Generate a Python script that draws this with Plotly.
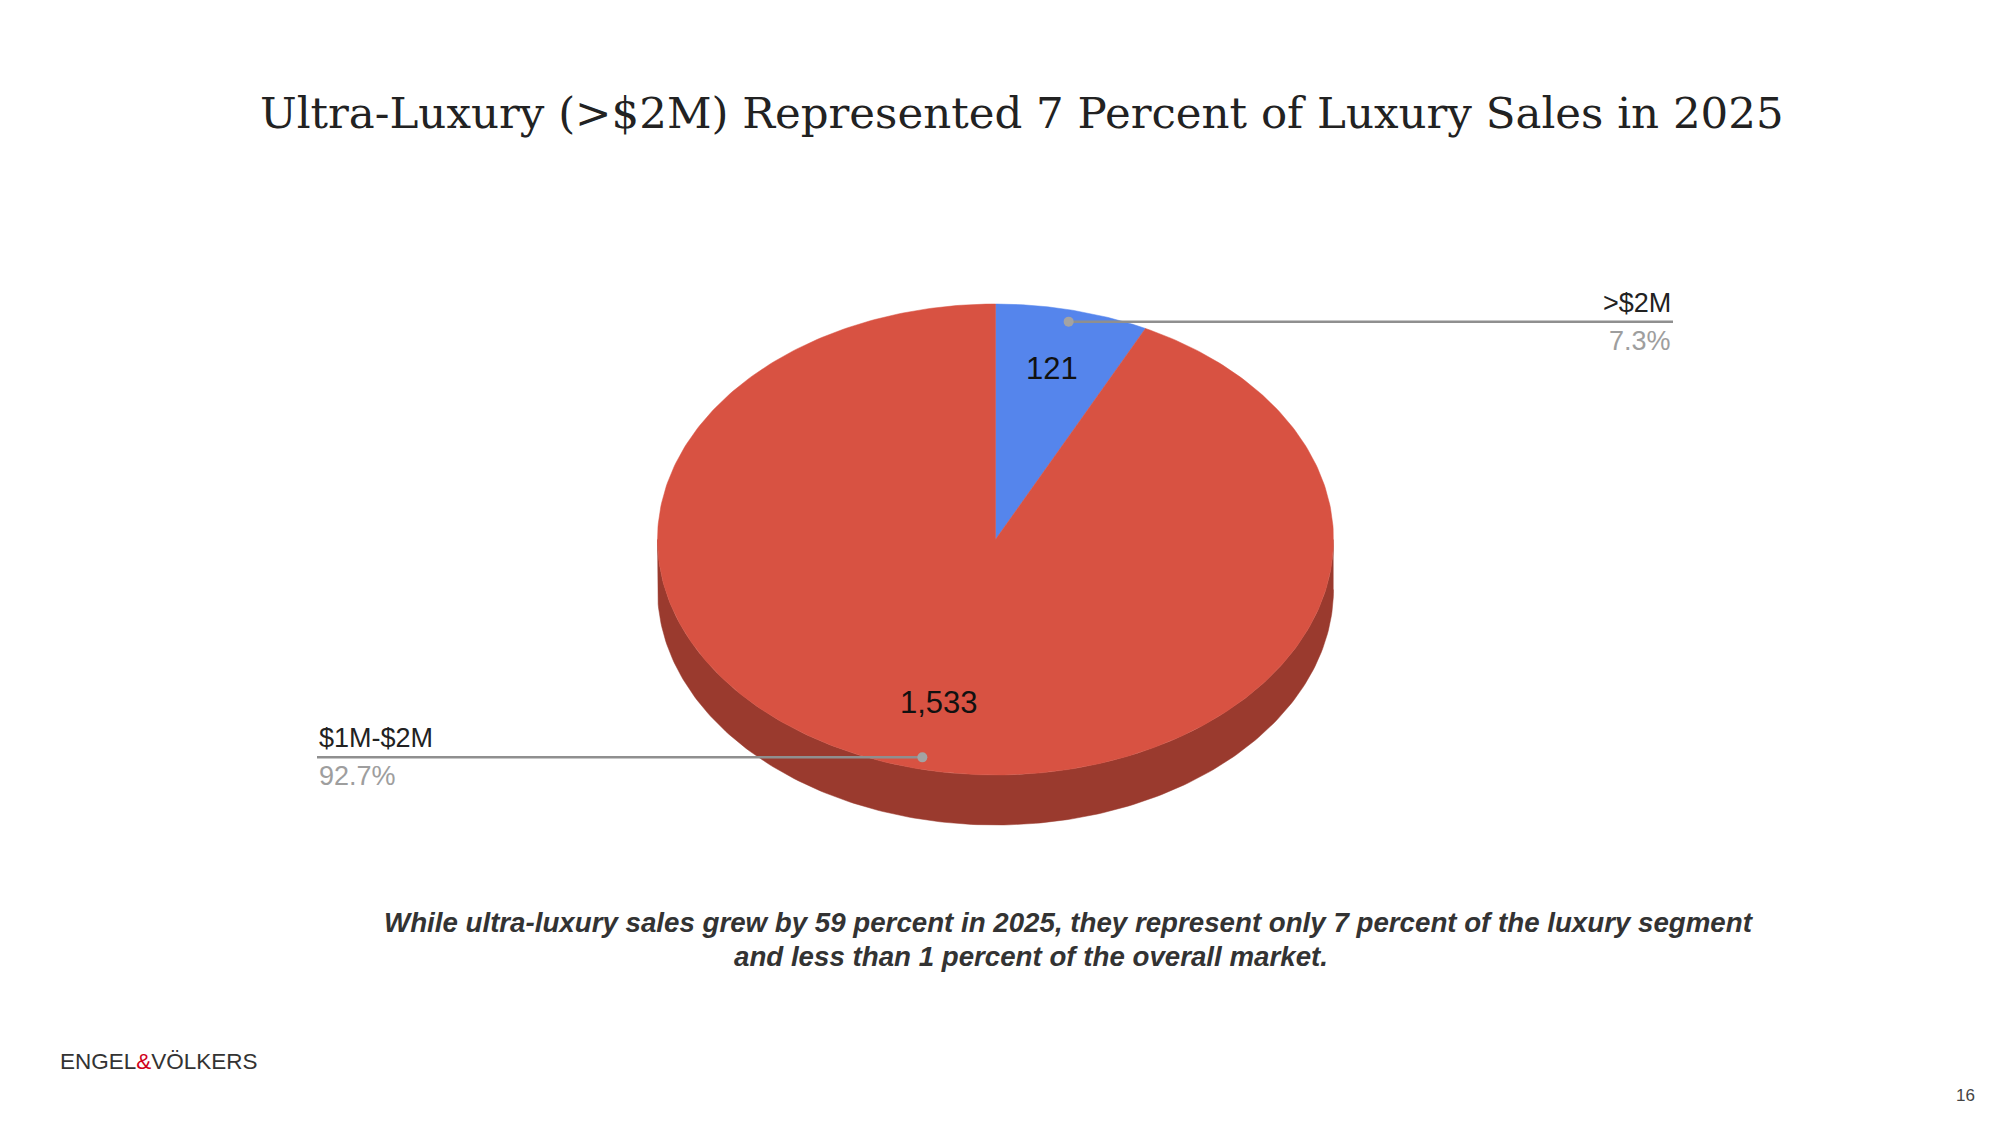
import numpy as np
import plotly.graph_objects as go

# ---- data ----
categories = [">$2M", "$1M-$2M"]
sales = [121, 1533]
value_labels = ["121", "1,533"]
pct_labels = ["7.3%", "92.7%"]
title_text = "Ultra-Luxury (>$2M) Represented 7 Percent of Luxury Sales in 2025"
caption_lines = [
    "While ultra-luxury sales grew by 59 percent in 2025, they represent only 7 percent of the luxury segment",
    "and less than 1 percent of the overall market.",
]

# ---- style / layout constants ----
W, H = 2000, 1125
CX, CY, RX, RY, DEPTH = 987.5, 531.5, 338, 235.5, 50
TOP_COLORS = ["#5585EC", "#D85242"]
SIDE_COLORS = ["#3A62B8", "#9A3A2E"]
LINE_COLOR = "#8f8f8f"
DOT_COLOR = "#a3a3a3"
LABEL_X = [1665, 309]  # leader line ends
LABEL_SIDE = ["right", "left"]
SANS = "Liberation Sans, Arial, sans-serif"
CAPTION_POS = [(1061, 914), (1023, 948)]


def pt(theta_deg, r=1.0, dy=0.0):
    t = np.radians(theta_deg)
    return CX + RX * r * np.sin(t), CY - RY * r * np.cos(t) + dy


total = sum(sales)
fracs = [v / total for v in sales]
starts = np.cumsum([0] + fracs[:-1]) * 360
ends = np.cumsum(fracs) * 360

fig = go.Figure()

# side (extrusion) of visible lower half: angles 90..270 clockwise from top
for i in range(len(sales)):
    a0, a1 = max(starts[i], 90), min(ends[i], 270)
    if a1 <= a0:
        continue
    th = np.linspace(a0, a1, 200)
    xs_t, ys_t = pt(th)
    xs_b, ys_b = pt(th[::-1], dy=DEPTH)
    fig.add_trace(go.Scatter(
        x=np.concatenate([xs_t, xs_b]), y=np.concatenate([ys_t, ys_b]),
        fill="toself", fillcolor=SIDE_COLORS[i], mode="lines",
        line=dict(width=0.5, color=SIDE_COLORS[i]), hoverinfo="skip", showlegend=False))

# top face wedges
for i in range(len(sales)):
    th = np.linspace(starts[i], ends[i], 400)
    xs, ys = pt(th)
    fig.add_trace(go.Scatter(
        x=np.concatenate([[CX], xs, [CX]]), y=np.concatenate([[CY], ys, [CY]]),
        fill="toself", fillcolor=TOP_COLORS[i], mode="lines",
        line=dict(width=0.5, color=TOP_COLORS[i]), hoverinfo="skip", showlegend=False,
        name=categories[i]))

annotations = []
mids = (starts + ends) / 2
for i in range(len(sales)):
    # value label inside slice
    vx, vy = pt(mids[i], r=0.728, dy=-4)
    annotations.append(dict(x=vx, y=vy, text=value_labels[i], showarrow=False,
                            font=dict(family=SANS, size=31, color="#111111"),
                            xanchor="center", yanchor="middle"))
    # leader line + dot
    dx, dy = pt(mids[i], r=0.95)
    fig.add_trace(go.Scatter(x=[dx, LABEL_X[i]], y=[dy, dy], mode="lines",
                             line=dict(color=LINE_COLOR, width=2.5),
                             hoverinfo="skip", showlegend=False))
    fig.add_trace(go.Scatter(x=[dx], y=[dy], mode="markers",
                             marker=dict(color=DOT_COLOR, size=10),
                             hoverinfo="skip", showlegend=False))
    xa = LABEL_SIDE[i]
    annotations.append(dict(x=LABEL_X[i], y=dy - 2, text=categories[i].replace("$", "&#36;"),
                            showarrow=False, xanchor=xa, yanchor="bottom",
                            font=dict(family=SANS, size=27, color="#222222")))
    annotations.append(dict(x=LABEL_X[i], y=dy + 2, text=pct_labels[i], showarrow=False,
                            xanchor=xa, yanchor="top",
                            font=dict(family=SANS, size=27, color="#9e9e9e")))

# title
annotations.append(dict(x=1014, y=105, text=title_text.replace("$", "&#36;"), showarrow=False,
                        xanchor="center", yanchor="middle",
                        font=dict(family="DejaVu Serif, Liberation Serif, serif", size=43.5,
                                  color="#222222")))
# caption
for (cx_, cy_), line in zip(CAPTION_POS, caption_lines):
    annotations.append(dict(x=cx_, y=cy_, text="<b><i>" + line + "</i></b>",
                            showarrow=False, xanchor="center", yanchor="middle",
                            font=dict(family=SANS, size=27.7, color="#333333")))
# logo
annotations.append(dict(x=50, y=1053,
                        text="ENGEL<span style='color:#D0021B'>&</span>VÖLKERS",
                        showarrow=False, xanchor="left", yanchor="middle",
                        font=dict(family=SANS, size=22.5, color="#333333")))
# page number
annotations.append(dict(x=1969, y=1087, text="16", showarrow=False, xanchor="right",
                        yanchor="middle", font=dict(family=SANS, size=17, color="#444444")))

fig.update_layout(
    width=W, height=H, margin=dict(l=0, r=0, t=0, b=0),
    paper_bgcolor="white", plot_bgcolor="white", showlegend=False,
    xaxis=dict(range=[0, W], visible=False, fixedrange=True),
    yaxis=dict(range=[H, 0], visible=False, fixedrange=True),
    annotations=annotations,
)
fig.write_html("out.html")
